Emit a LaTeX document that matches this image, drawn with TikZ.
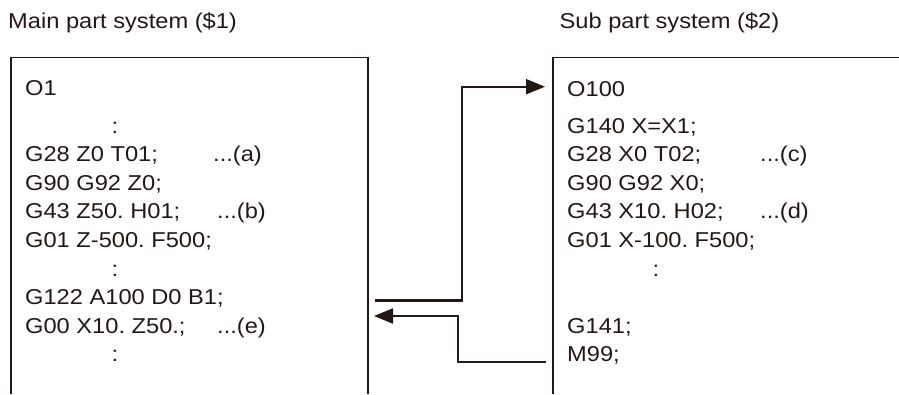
\documentclass[tikz,border=0pt]{standalone}
\usepackage{fontspec}
\setmainfont{Liberation Sans}[FakeStretch=1.1]
\usetikzlibrary{arrows.meta}
\definecolor{ink}{HTML}{231815}
\frenchspacing
\begin{document}
\begin{tikzpicture}[x=1pt,y=-1pt,
  txt/.style={anchor=base west,inner sep=0pt,text=ink,font=\frenchspacing\fontsize{21.5}{24}\selectfont},
  dots/.style={anchor=base,inner sep=0pt,text=ink,font=\fontsize{21.5}{24}\selectfont},
  boxline/.style={draw=ink,line width=1.8pt},
  conn/.style={draw=ink,line width=2.1pt},
  tip/.style={-{Triangle[length=19pt,width=15pt]}}]
\useasboundingbox (0,0) rectangle (899,394);
% titles
\node[txt] (t1) at (8,28.5) {Main part system (\$1)};
\node[txt] (t2) at (559.5,28.5) {Sub part system (\$2)};
% boxes
\draw[boxline] (11,394) -- (11,57.5) -- (368,57.5) -- (368,394);
\draw[boxline] (553,394) -- (553,57.5) -- (899,57.5);
% left program
\node[txt] (l0) at (25,95) {O1};
\node[dots] (l1) at (115,133) {:};
\node[txt] (l2) at (25,161.7) {G28 Z0 T01;};
\node[txt] (ca) at (213,161.7) {...(a)};
\node[txt] (l3) at (25,190.3) {G90 G92 Z0;};
\node[txt] (l4) at (25,218.9) {G43 Z50. H01;};
\node[txt] (cb) at (217,218.9) {...(b)};
\node[txt] (l5) at (25,247.5) {G01 Z-500. F500;};
\node[dots] (l6) at (115,276.1) {:};
\node[txt] (l7) at (25,304.7) {G122 A100 D0 B1;};
\node[txt] (l8) at (25,333.3) {G00 X10. Z50.;};
\node[txt] (ce) at (217,333.3) {...(e)};
\node[dots] (l9) at (115,361.9) {:};
% right program
\node[txt] (r0) at (567,96) {O100};
\node[txt] (r1) at (567,133) {G140 X=X1;};
\node[txt] (r2) at (567,161.7) {G28 X0 T02;};
\node[txt] (cc) at (760,161.7) {...(c)};
\node[txt] (r3) at (567,190.3) {G90 G92 X0;};
\node[txt] (r4) at (567,218.9) {G43 X10. H02;};
\node[txt] (cd) at (760,218.9) {...(d)};
\node[txt] (r5) at (567,247.5) {G01 X-100. F500;};
\node[dots] (r6) at (656,276.1) {:};
\node[txt] (r7) at (567,333.3) {G141;};
\node[txt] (r8) at (567,361.9) {M99;};
% connector points
\coordinate (a0) at (374.5,300.5);
\coordinate (a1) at (545,86.7);
\coordinate (b0) at (546,361.7);
\coordinate (b1) at (374,316);
\draw[conn,tip] (a0) -| (461.7,86.7) -- (a1);
\draw[conn,tip] (b0) -| (457.7,316) -- (b1);
\end{tikzpicture}
\end{document}
